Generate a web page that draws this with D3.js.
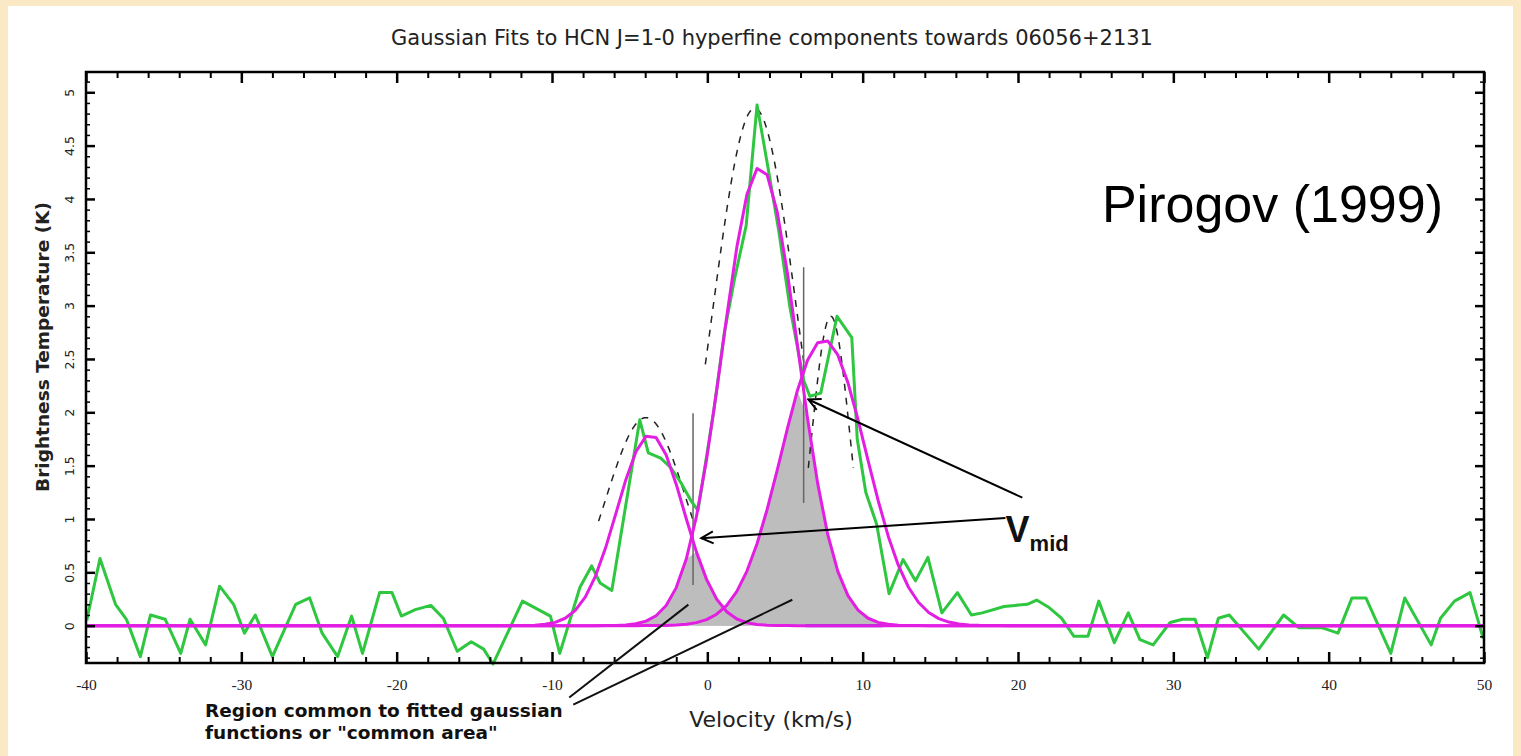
<!DOCTYPE html>
<html>
<head>
<meta charset="utf-8">
<script src="https://cdn.jsdelivr.net/npm/d3@7"></script>
<style>
  html, body { margin: 0; padding: 0; background: #fbe9c6; }
  svg { display: block; }
</style>
</head>
<body>
<svg id="chart" width="1521" height="756"></svg>
<script>
// HCN J=1-0 spectrum towards 06056+2131: channel velocities (km/s) and brightness temperatures (K)
const channelVel = [
  -39.95, -39.1, -38.1, -37.4, -36.5, -35.85, -34.9, -33.9, -33.3, -32.3,
  -31.4, -30.5, -29.8, -29.1, -28.0, -26.5, -25.6, -24.8, -23.8, -22.9,
  -22.2, -21.1, -20.3, -19.7, -18.8, -17.8, -17.0, -16.1, -15.2, -14.4,
  -13.8, -11.9, -10.1, -9.5, -8.2, -7.45, -6.9, -6.15, -4.35, -3.8,
  -3.0, -2.35, -1.7, -1.05, -0.6, 0.4, 1.1, 1.75, 2.5, 3.2,
  3.9, 4.6, 5.3, 6.2, 6.6, 7.3, 8.35, 9.3, 9.65, 10.2,
  10.9, 11.7, 12.6, 13.4, 14.2, 15.1, 16.1, 17.0, 17.7, 19.1,
  19.8, 20.6, 21.2, 22.0, 22.8, 23.6, 24.5, 25.2, 26.2, 27.1,
  27.85, 28.7, 29.8, 30.6, 31.4, 32.2, 32.9, 33.6, 35.5, 36.3,
  37.1, 38.1, 39.6, 40.6, 41.5, 42.4, 44.0, 44.9, 46.6, 47.2,
  48.1, 49.1, 49.95
];
const channelTemp = [
  0.05, 0.63, 0.20, 0.06, -0.29, 0.10, 0.06, -0.26, 0.06, -0.18,
  0.37, 0.20, -0.07, 0.10, -0.29, 0.20, 0.26, -0.07, -0.29, 0.09,
  -0.26, 0.31, 0.31, 0.09, 0.15, 0.19, 0.07, -0.24, -0.15, -0.22,
  -0.36, 0.23, 0.09, -0.26, 0.36, 0.56, 0.40, 0.33, 1.93, 1.62,
  1.57, 1.48, 1.34, 1.17, 1.08, 2.00, 2.75, 3.25, 3.75, 4.88,
  4.30, 3.70, 3.00, 2.30, 2.15, 2.18, 2.90, 2.70, 1.75, 1.25,
  0.95, 0.30, 0.62, 0.42, 0.64, 0.12, 0.31, 0.10, 0.12, 0.18,
  0.19, 0.20, 0.24, 0.17, 0.07, -0.10, -0.10, 0.23, -0.16, 0.12,
  -0.13, -0.18, 0.03, 0.06, 0.06, -0.30, 0.07, 0.10, -0.22, -0.06,
  0.10, -0.02, -0.02, -0.07, 0.26, 0.26, -0.26, 0.26, -0.18, 0.07,
  0.23, 0.31, -0.12
];

// Independent Gaussian fits to the three hyperfine components (solid magenta)
const fitAmp   = [1.79, 4.30, 2.68];
const fitCen   = [-3.67, 3.40, 7.50];
const fitSigma = [2.15, 2.42, 2.72];

// Constrained fit (dashed), drawn above half maximum
const hfAmp   = [1.95, 4.85, 2.90];
const hfCen   = [-3.95, 3.05, 7.95];
const hfSigma = [2.60, 2.72, 1.25];

// Crossing velocities of adjacent fits, with the extent of their marker lines (K)
const vMid      = [-0.92, 6.2];
const vMidLow   = [0.38, 1.15];
const vMidHigh  = [1.99, 3.36];

// Axis ticks
const xMajor = [-40, -30, -20, -10, 0, 10, 20, 30, 40, 50];
const xMinor = d3.range(-40, 51, 2).filter(v => v % 10 !== 0);
const yMajor = [0, 0.5, 1, 1.5, 2, 2.5, 3, 3.5, 4, 4.5, 5];
const yMinor = d3.range(-3, 52).map(i => i / 10).filter(v => Math.round(v * 10) % 5 !== 0);

// Annotations, placed in data coordinates
const arrowTail = [[20.28, 1.20], [19.19, 1.01]];
const arrowTip  = [[6.50, 2.12], [-0.39, 0.82]];
const pointerFrom = [[-8.89, -0.674], [-8.63, -0.74]];
const pointerTo   = [[-1.22, 0.197], [5.47, 0.243]];
const vmidLabelAt = [19.2, 0.78];
const baseSpan = [6.3, 11.3];

const svg = d3.select("#chart");

// page panel
svg.append("rect").attr("x", 8).attr("y", 6).attr("width", 1505).attr("height", 752)
  .attr("fill", "#ffffff");

const x = d3.scaleLinear().domain([-40, 50]).range([86, 1484]);
const y = d3.scaleLinear().domain([-0.35, 5.19]).range([663, 72]);

const gauss = (a, c, s) => v => a * Math.exp(-((v - c) ** 2) / (2 * s * s));
const fits = fitAmp.map((a, i) => gauss(a, fitCen[i], fitSigma[i]));
const hfs = hfAmp.map((a, i) => gauss(a, hfCen[i], hfSigma[i]));

const grid = [-40, ...d3.range(-39.7, 50, 0.65), 50];

const line = d3.line().x(d => x(d[0])).y(d => y(d[1]));
const area = d3.area().x(d => x(d[0])).y0(y(0)).y1(d => y(d[1]));

const plot = svg.append("g");

// common areas (overlap of neighbouring fits)
[[0, 1, -6, 3], [1, 2, -1, 14]].forEach(([a, b, lo, hi]) => {
  const pts = grid.filter(v => v >= lo && v <= hi).map(v => [v, Math.min(fits[a](v), fits[b](v))]);
  plot.append("path").attr("d", area(pts)).attr("fill", "#bdbdbd");
});

// base of the right common area
plot.append("line")
  .attr("x1", x(baseSpan[0])).attr("x2", x(baseSpan[1]))
  .attr("y1", y(0)).attr("y2", y(0))
  .attr("stroke", "#4b3fd6").attr("stroke-width", 3);

// dashed constrained fit
hfs.forEach((f, i) => {
  const pts = d3.range(hfCen[i] - 4 * hfSigma[i], hfCen[i] + 4 * hfSigma[i], 0.05)
    .map(v => [v, f(v)]).filter(d => d[1] >= hfAmp[i] / 2);
  plot.append("path").attr("d", line(pts))
    .attr("fill", "none").attr("stroke", "#222").attr("stroke-width", 1.5)
    .attr("stroke-dasharray", "7,7");
});

// vertical markers at v_mid
vMid.forEach((v, i) => {
  plot.append("line")
    .attr("x1", x(v)).attr("x2", x(v))
    .attr("y1", y(vMidLow[i])).attr("y2", y(vMidHigh[i]))
    .attr("stroke", "#666").attr("stroke-width", 1.5);
});

// observed spectrum
const spec = channelVel.map((v, i) => [v, channelTemp[i]]);
plot.append("path").attr("d", line(spec))
  .attr("fill", "none").attr("stroke", "#2fc640").attr("stroke-width", 3)
  .attr("stroke-linejoin", "round");

// fitted gaussians
fits.forEach(f => {
  plot.append("path").attr("d", line(grid.map(v => [v, f(v)])))
    .attr("fill", "none").attr("stroke", "#e31ee3").attr("stroke-width", 3)
    .attr("stroke-linejoin", "round");
});

// frame
svg.append("rect").attr("x", 86).attr("y", 72).attr("width", 1484 - 86).attr("height", 663 - 72)
  .attr("fill", "none").attr("stroke", "#000").attr("stroke-width", 2.5);

function styleAxis(g, w) {
  g.select(".domain").remove();
  g.selectAll(".tick line").attr("stroke", "#000").attr("stroke-width", w);
}

// bottom axis
svg.append("g").attr("transform", "translate(0,663)")
  .call(d3.axisBottom(x).tickValues(xMajor).tickSize(-11).tickPadding(16).tickFormat(d => String(d)))
  .call(g => styleAxis(g, 2.5))
  .call(g => g.selectAll("text").attr("font-family", "Liberation Serif, serif")
    .attr("font-size", 15.5).attr("fill", "#222"));
svg.append("g").attr("transform", "translate(0,663)")
  .call(d3.axisBottom(x).tickValues(xMinor).tickSize(-6).tickFormat(""))
  .call(g => styleAxis(g, 2));

// top axis
svg.append("g").attr("transform", "translate(0,72)")
  .call(d3.axisTop(x).tickValues(xMajor).tickSize(-11).tickFormat(""))
  .call(g => styleAxis(g, 2.5));
svg.append("g").attr("transform", "translate(0,72)")
  .call(d3.axisTop(x).tickValues(xMinor).tickSize(-6).tickFormat(""))
  .call(g => styleAxis(g, 2));

// left axis with rotated labels
svg.append("g").attr("transform", "translate(86,0)")
  .call(d3.axisLeft(y).tickValues(yMajor).tickSize(-9).tickFormat(d => String(d)))
  .call(g => styleAxis(g, 2.5))
  .call(g => g.selectAll("text")
    .attr("x", null).attr("dy", "0.35em")
    .attr("text-anchor", "middle")
    .attr("transform", "translate(-16,0) rotate(-90)")
    .attr("font-family", "DejaVu Sans, sans-serif").attr("font-size", 12.5).attr("fill", "#222"));
svg.append("g").attr("transform", "translate(86,0)")
  .call(d3.axisLeft(y).tickValues(yMinor).tickSize(-4).tickFormat(""))
  .call(g => styleAxis(g, 1.5));

// right axis
svg.append("g").attr("transform", "translate(1484,0)")
  .call(d3.axisRight(y).tickValues(yMajor).tickSize(-9).tickFormat(""))
  .call(g => styleAxis(g, 2.5));
svg.append("g").attr("transform", "translate(1484,0)")
  .call(d3.axisRight(y).tickValues(yMinor).tickSize(-4).tickFormat(""))
  .call(g => styleAxis(g, 1.5));

// titles
svg.append("text").attr("x", 772).attr("y", 45).attr("text-anchor", "middle")
  .attr("font-family", "DejaVu Sans, sans-serif").attr("font-size", 21).attr("fill", "#222")
  .text("Gaussian Fits to HCN J=1-0 hyperfine components towards 06056+2131");

svg.append("text").attr("x", 771).attr("y", 727).attr("text-anchor", "middle")
  .attr("font-family", "DejaVu Sans, sans-serif").attr("font-size", 22).attr("fill", "#222")
  .text("Velocity (km/s)");

svg.append("text").attr("transform", "translate(49,347) rotate(-90)").attr("text-anchor", "middle")
  .attr("font-family", "DejaVu Sans, sans-serif").attr("font-weight", "bold")
  .attr("font-size", 18.5).attr("fill", "#222")
  .text("Brightness Temperature (K)");

svg.append("text").attr("x", 1443).attr("y", 222).attr("text-anchor", "end")
  .attr("font-family", "Liberation Sans, Arial, sans-serif").attr("font-size", 52).attr("fill", "#000")
  .text("Pirogov (1999)");

// arrows to the crossing points
const defs = svg.append("defs");
defs.append("marker").attr("id", "head").attr("viewBox", "-2 -8 16 16")
  .attr("refX", 0).attr("refY", 0).attr("markerWidth", 16).attr("markerHeight", 16)
  .attr("markerUnits", "userSpaceOnUse").attr("orient", "auto")
  .append("path").attr("d", "M12,-6 L0,0 L12,6").attr("fill", "none")
  .attr("stroke", "#000").attr("stroke-width", 2);

arrowTail.forEach((t, i) => {
  svg.append("line")
    .attr("x1", x(arrowTip[i][0])).attr("y1", y(arrowTip[i][1]))
    .attr("x2", x(t[0])).attr("y2", y(t[1]))
    .attr("stroke", "#000").attr("stroke-width", 2)
    .attr("marker-start", "url(#head)");
});

const vt = svg.append("text").attr("x", x(vmidLabelAt[0])).attr("y", y(vmidLabelAt[1]))
  .attr("font-family", "Liberation Sans, Arial, sans-serif").attr("font-weight", "bold").attr("fill", "#111");
vt.append("tspan").attr("font-size", 36).text("V");
vt.append("tspan").attr("font-size", 22).attr("dy", 9).text("mid");

// pointers to the common areas
pointerFrom.forEach((p, i) => {
  svg.append("line")
    .attr("x1", x(p[0])).attr("y1", y(p[1]))
    .attr("x2", x(pointerTo[i][0])).attr("y2", y(pointerTo[i][1]))
    .attr("stroke", "#111").attr("stroke-width", 2);
});

const note = svg.append("text").attr("font-family", "DejaVu Sans, sans-serif")
  .attr("font-weight", "bold").attr("font-size", 18.5).attr("fill", "#111");
note.append("tspan").attr("x", 205).attr("y", 717).text("Region common to fitted gaussian");
note.append("tspan").attr("x", 205).attr("y", 739).text("functions or \"common area\"");
</script>
</body>
</html>
